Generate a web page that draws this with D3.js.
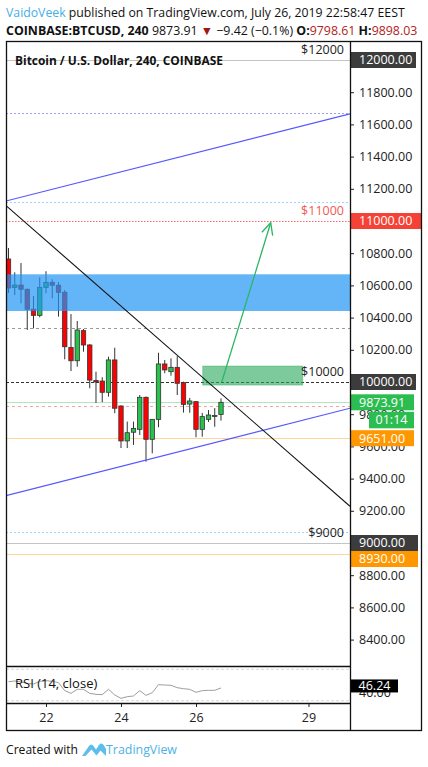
<!DOCTYPE html>
<html><head><meta charset="utf-8">
<script src="https://cdn.jsdelivr.net/npm/d3@7"></script>
<style>
body{margin:0;background:#fff}
svg{display:block}
text{font-family:"Open Sans",sans-serif}
</style>
</head><body>
<svg id="chart" width="428" height="767"></svg>
<script>
// ---------- DATA ----------
const candleStart = "2019-07-21T00:00:00Z";
const candleEnd = "2019-07-26T20:00:00Z"; // exclusive, 4h bars
const opens  = [10764,10588,10602,10576,10452,10414,10588,10619,10601,10557,10215,10132,10319,10230,10010,10006,9936,10137,9851,9634,9688,9706,9905,9644,9768,10112,10064,10091,9996,9863,9878,9706,9768,9791,9798.61];
const highs  = [10832,10681,10739,10580,10534,10650,10688,10638,10621,10571,10422,10379,10329,10235,10064,10030,10157,10213,9855,9754,9754,9919,9910,9770,10182,10137,10147,10160,10002,9901,9880,9808,9826,9838,9898.03];
const lows   = [10553,10540,10489,10323,10333,10402,10551,10520,10406,10141,10068,10095,10188,9961,9870,9875,9909,9806,9590,9590,9609,9671,9505,9557,9719,10054,10039,9919,9810,9809,9657,9660,9752,9722,9760];
const closes = [10584,10602,10576,10452,10414,10588,10619,10601,10557,10219,10132,10323,10230,10012,10000,9936,10137,9837,9634,9685,9712,9905,9644,9768,10112,10075,10091,9992,9861,9882,9706,9785,9795,9792,9873.91];
const rsiValues = [54.2,55.1,53.8,52.1,51.3,54.7,55.5,54.7,53.0,42.8,39.4,44.5,44.5,39.4,38.1,37.7,44.5,37.3,33.0,35.1,36.0,42.8,36.8,40.2,50.4,50.0,49.6,46.6,45.3,44.5,40.7,42.8,43.2,43.2,46.24];
const rsiBands = [70, 30];
const rsiLast = 46.24;
const rsiAxisTick = [40];

const priceTicks = [8400,8600,8800,9000,9200,9400,9600,9800,10000,10200,10400,10600,10800,11000,11200,11400,11600,11800,12000];
const dateTicks = ["2019-07-22T00:00:00Z","2019-07-24T00:00:00Z","2019-07-26T00:00:00Z","2019-07-29T00:00:00Z"];
const dateTickLabels = ["22","24","26","29"];
const xDomain = ["2019-07-20T22:24:00Z","2019-07-30T02:34:00Z"];

const supportZone = [10441, 10669];
const targetBoxTimes = ["2019-07-26T04:18:00Z","2019-07-28T20:17:00Z"];
const targetBoxPrices = [9981, 10099];
const upperChannel = [[xDomain[0], 11124],[xDomain[1], 11665]];
const lowerChannel = [[xDomain[0], 9294],[xDomain[1], 9837]];
const downTrend    = [[xDomain[0], 11096],[xDomain[1], 9228]];
const arrowPath    = [["2019-07-26T16:27:00Z", 9999],["2019-07-27T23:49:00Z", 10989]];

const levelPrices = [12000, 11671, 11118, 11000, 10333, 10000, 9873.91, 9851, 9651, 9068, 9000, 8930];
const levelKinds  = ["grey","violetDot","blueDot","redDot","greyDash","blackDash","green","redDash","orange","blueDot","grey","orange"];
const priceNotes  = [12000, 11000, 10000, 9000];
const priceNoteLabels = ["$12000","$11000","$10000","$9000"];
const priceNoteKinds = ["dark","red","dark","dark"];
const scaleBoxPrices = [12000, 11000, 10000, 9873.91, 9651, 9000, 8930];
const scaleBoxLabels = ["12000.00","11000.00","10000.00","9873.91","9651.00","9000.00","8930.00"];
const scaleBoxKinds  = ["dark","red","dark","green","orange","dark","orange"];
const countdownLabel = "01:14";

const author = "VaidoVeek";
const headerLine1 = " published on TradingView.com, July 26, 2019 22:58:47 EEST";
const symbolText = "COINBASE:BTCUSD, 240";
const lastPriceText = "9873.91";
const changeText = "\u22129.42 (\u22120.1%)";
const openText = "9798.61";
const highText = "9898.03";
const chartTitle = "Bitcoin / U.S. Dollar, 240, COINBASE";
const rsiTitle = "RSI (14, close)";

// ---------- LAYOUT / STYLE ----------
const L = 6, R = 350, T = 41, mainB = 666, rsiB = 703, B = 730, AR = 421;
const C = {
  up:"#27c24c", down:"#ff0000", border:"#333333",
  zone:"#2196f3", box:"#26a65b", blueLine:"#5757ff", arrow:"#2bb562",
  dark:"#3c3c3c", red:"#f44336", green:"#2bbd4f", orange:"#ff9800"
};
const levelStyle = {
  grey:{stroke:"#c4c4c4",dash:null},
  violetDot:{stroke:"#9aa0ff",dash:"2,2"},
  blueDot:{stroke:"#9fd3ff",dash:"2,2"},
  redDot:{stroke:"#ff6b6b",dash:"1.5,1.5"},
  greyDash:{stroke:"#9a9a9a",dash:"3,3"},
  blackDash:{stroke:"#333",dash:"3,2"},
  green:{stroke:"#b2e5bd",dash:null},
  redDash:{stroke:"#ff9e9e",dash:"3,3"},
  orange:{stroke:"#ffd699",dash:null}
};

const svg = d3.select("#chart");
const parse = s => new Date(s);
const times = d3.utcHour.every(4).range(parse(candleStart), parse(candleEnd));

const x = d3.scaleUtc().domain(xDomain.map(parse)).range([L, R]);
const y = d3.scaleLinear().domain([12000, 8400]).range([60, 639.6]);
const yr = d3.scaleLinear().domain([30, 70]).range([700.7, 669.3]);

function fit(sel, target){
  const w = sel.node().getComputedTextLength();
  const fs = parseFloat(sel.attr("font-size"));
  sel.attr("font-size", fs*target/w);
}

// ---------- HEADER ----------
const h1 = svg.append("text").attr("x",6).attr("y",17).attr("font-size",14).attr("fill","#111");
h1.append("tspan").attr("fill","#3fb0e6").text(author);
h1.append("tspan").text(headerLine1);
fit(h1, 399);
const h2 = svg.append("text").attr("x",6).attr("y",34.5).attr("font-size",14).attr("fill","#111");
h2.append("tspan").attr("font-weight","bold").text(symbolText);
h2.append("tspan").text(" " + lastPriceText + " ");
h2.append("tspan").attr("fill","#a31515").text("\u25BC");
h2.append("tspan").text(" " + changeText + " ");
h2.append("tspan").attr("font-weight","bold").text("O:");
h2.append("tspan").attr("fill","#b22222").text(openText);
h2.append("tspan").attr("font-weight","bold").text(" H:");
h2.append("tspan").attr("fill","#b22222").text(highText);
fit(h2, 412);

// ---------- CLIP ----------
svg.append("defs").append("clipPath").attr("id","plot")
  .append("rect").attr("x",L).attr("y",T).attr("width",R-L).attr("height",mainB-T);
svg.append("defs").append("clipPath").attr("id","rsiclip")
  .append("rect").attr("x",L).attr("y",mainB).attr("width",R-L).attr("height",rsiB-mainB);

const plot = svg.append("g").attr("clip-path","url(#plot)");

// level lines
plot.selectAll("line.level").data(levelPrices).join("line")
  .attr("class","level")
  .attr("x1",L).attr("x2",R)
  .attr("y1",d=>Math.round(y(d))+0.5).attr("y2",d=>Math.round(y(d))+0.5)
  .attr("stroke",(d,i)=>levelStyle[levelKinds[i]].stroke)
  .attr("stroke-dasharray",(d,i)=>levelStyle[levelKinds[i]].dash)
  .attr("stroke-width",1);

// chart title
svg.append("text").attr("x",15).attr("y",65).attr("font-size",13).attr("font-weight","bold")
  .attr("fill","#111").text(chartTitle).call(s=>fit(s,208));

// price notes
svg.selectAll("text.note").data(priceNotes).join("text")
  .attr("class","note")
  .attr("x",344).attr("y",d=>y(d)-6)
  .attr("text-anchor","end").attr("font-size",12.5)
  .attr("fill",(d,i)=>priceNoteKinds[i]==="red"?"#f05a4f":"#222")
  .text((d,i)=>priceNoteLabels[i]);

// candles
const bw = 4.4;
const cg = plot.append("g");
cg.selectAll("line.wick").data(times).join("line")
  .attr("x1",d=>x(d)).attr("x2",d=>x(d))
  .attr("y1",(d,i)=>y(highs[i])).attr("y2",(d,i)=>y(lows[i]))
  .attr("stroke",C.border).attr("stroke-width",1);
cg.selectAll("rect.body").data(times).join("rect")
  .attr("x",d=>x(d)-bw/2).attr("width",bw)
  .attr("y",(d,i)=>y(Math.max(opens[i],closes[i])))
  .attr("height",(d,i)=>Math.max(1, Math.abs(y(opens[i])-y(closes[i]))))
  .attr("fill",(d,i)=>closes[i]>=opens[i]?C.up:C.down)
  .attr("stroke",C.border).attr("stroke-width",0.8);

// support zone
plot.append("rect").attr("x",L).attr("width",R-L)
  .attr("y",y(supportZone[1])).attr("height",y(supportZone[0])-y(supportZone[1]))
  .attr("fill",C.zone).attr("opacity",0.7);

// target box
plot.append("rect")
  .attr("x",x(parse(targetBoxTimes[0]))).attr("width",x(parse(targetBoxTimes[1]))-x(parse(targetBoxTimes[0])))
  .attr("y",y(targetBoxPrices[1])).attr("height",y(targetBoxPrices[0])-y(targetBoxPrices[1]))
  .attr("fill",C.box).attr("fill-opacity",0.6).attr("stroke",C.box).attr("stroke-opacity",0.4);

// trend lines
const line = d3.line().x(d=>x(parse(d[0]))).y(d=>y(d[1]));
plot.append("path").attr("d",line(upperChannel)).attr("stroke",C.blueLine).attr("stroke-width",1.2).attr("fill","none");
plot.append("path").attr("d",line(lowerChannel)).attr("stroke",C.blueLine).attr("stroke-width",1.2).attr("fill","none");
plot.append("path").attr("d",line(downTrend)).attr("stroke","#111").attr("stroke-width",1.1).attr("fill","none");

// arrow
const a0 = [x(parse(arrowPath[0][0])), y(arrowPath[0][1])];
const a1 = [x(parse(arrowPath[1][0])), y(arrowPath[1][1])];
plot.append("path").attr("d",line(arrowPath)).attr("stroke",C.arrow).attr("stroke-width",1.3).attr("fill","none");
const ang = Math.atan2(a1[1]-a0[1], a1[0]-a0[0]);
const hl = 13, ha = 0.45;
plot.append("path")
  .attr("d",`M${a1[0]-hl*Math.cos(ang-ha)},${a1[1]-hl*Math.sin(ang-ha)}L${a1[0]},${a1[1]}L${a1[0]-hl*Math.cos(ang+ha)},${a1[1]-hl*Math.sin(ang+ha)}`)
  .attr("stroke",C.arrow).attr("stroke-width",1.3).attr("fill","none");

// ---------- RSI ----------
const rg = svg.append("g").attr("clip-path","url(#rsiclip)");
rg.selectAll("line.band").data(rsiBands).join("line")
  .attr("x1",L).attr("x2",R).attr("y1",d=>yr(d)).attr("y2",d=>yr(d))
  .attr("stroke","#d8d8d8").attr("stroke-dasharray","3,2");
svg.append("text").attr("x",15).attr("y",688).attr("font-size",13).attr("fill","#111").text(rsiTitle);
rg.append("path")
  .attr("d",d3.line().x((d,i)=>x(times[i])).y(d=>yr(d))(rsiValues))
  .attr("stroke","#9e9e9e").attr("stroke-width",1).attr("fill","none");

// ---------- AXES ----------
const yAxis = d3.axisRight(y).tickValues(priceTicks).tickSize(4).tickPadding(5).tickFormat(d3.format(".2f"));
const ya = svg.append("g").attr("transform",`translate(${R},0)`).call(yAxis);
ya.select(".domain").remove();
ya.selectAll("text").attr("font-size",12.5).attr("fill","#222").attr("font-family","'Open Sans',sans-serif");
ya.selectAll("line").attr("stroke","#222");

const xAxis = d3.axisBottom(x).tickValues(dateTicks.map(parse)).tickSize(4).tickPadding(6)
  .tickFormat((d,i)=>dateTickLabels[i]);
const xa = svg.append("g").attr("transform",`translate(0,${rsiB})`).call(xAxis);
xa.select(".domain").remove();
xa.selectAll("text").attr("font-size",12.5).attr("fill","#222").attr("font-family","'Open Sans',sans-serif");
xa.selectAll("line").attr("stroke","#222");

// rsi axis label (partly hidden)
svg.selectAll("text.rtick").data(rsiAxisTick).join("text").attr("class","rtick")
  .attr("x",359).attr("y",d=>yr(d)).attr("dy","0.32em").attr("font-size",12.5).attr("fill","#222").text(d=>d.toFixed(2));

// scale boxes
const kindFill = {dark:C.dark, red:C.red, green:C.green, orange:C.orange};
const boxW = {dark:65, red:71, green:63, orange:63};
const boxCenters = scaleBoxPrices.map((p,i)=>{
  let c = y(p);
  return c;
});
// nudge overlapping boxes (scale behaviour)
for(let i=1;i<boxCenters.length;i++){
  if(boxCenters[i]-boxCenters[i-1] < 16) boxCenters[i] = boxCenters[i-1]+16;
}
const sb = svg.append("g");
scaleBoxPrices.forEach((p,i)=>{
  const k = scaleBoxKinds[i];
  const cy = boxCenters[i];
  const w = (p===9000||p===8930) ? 67 : boxW[k];
  sb.append("rect").attr("x",351).attr("y",cy-8).attr("width",w).attr("height",16).attr("fill",kindFill[k]);
  sb.append("text").attr("x",359).attr("y",cy).attr("dy","0.35em").attr("font-size",12.5)
    .attr("fill","#fff").text(scaleBoxLabels[i]);
});
// countdown box under last price
const lpIdx = scaleBoxPrices.indexOf(9873.91);
sb.append("rect").attr("x",369).attr("y",boxCenters[lpIdx]+9.5).attr("width",45).attr("height",16.5).attr("fill",C.green);
sb.append("text").attr("x",391.5).attr("y",boxCenters[lpIdx]+17.8).attr("dy","0.35em").attr("text-anchor","middle")
  .attr("font-size",12.5).attr("fill","#fff").text(countdownLabel);
// RSI value box
sb.append("rect").attr("x",351).attr("y",yr(rsiLast)-8.5).attr("width",47).attr("height",13).attr("fill","#000");
sb.append("text").attr("x",374.5).attr("y",yr(rsiLast)-2).attr("dy","0.35em").attr("text-anchor","middle")
  .attr("font-size",12.5).attr("fill","#fff").text(rsiLast.toFixed(2));

// ---------- FRAME ----------
const fr = svg.append("g").attr("fill","none").attr("stroke","#111").attr("stroke-width",1.3);
fr.append("rect").attr("x",L+0.5).attr("y",T+0.5).attr("width",AR-L).attr("height",B-T);
fr.append("line").attr("x1",R+0.5).attr("x2",R+0.5).attr("y1",T).attr("y2",B);
fr.append("line").attr("x1",L).attr("x2",R).attr("y1",mainB+0.5).attr("y2",mainB+0.5);
fr.append("line").attr("x1",L).attr("x2",R).attr("y1",rsiB+0.5).attr("y2",rsiB+0.5);

// ---------- FOOTER ----------
const ft = svg.append("text").attr("x",6).attr("y",754).attr("font-size",14).attr("fill","#111").text("Created with");
fit(ft, 72);
const logo = svg.append("g").attr("transform","translate(82,741)");
logo.append("path").attr("d","M0,15 L7,5 Q9,2 11.5,5 L14,8.5 L17,4 Q19.5,1 22,4.5 L24,8 L24,15 Q21,12 18.5,9.5 L14.5,14.5 L9.5,8.5 L3.5,15 Z")
  .attr("fill","#5fbde9");
const ft2 = svg.append("text").attr("x",106).attr("y",754).attr("font-size",14).attr("fill","#4cb3e6").text("TradingView");
fit(ft2, 71);
</script>
</body></html>
